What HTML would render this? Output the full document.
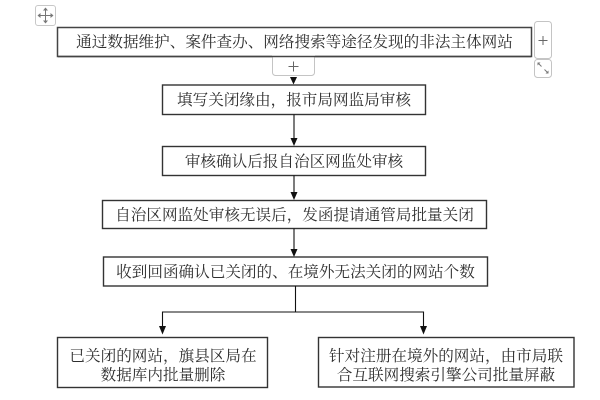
<!DOCTYPE html>
<html><head><meta charset="utf-8"><style>
html,body{margin:0;padding:0;background:#fff;}
svg{display:block;}
text{font-family:"Liberation Serif","Noto Serif CJK SC","Noto Serif CJK JP","Noto Serif CJK",serif;font-size:15.6px;fill:#2e2e2e;}
</style></head><body>
<svg width="600" height="400" viewBox="0 0 600 400" xmlns="http://www.w3.org/2000/svg">
<!-- move icon -->
<rect x="35.5" y="5.5" width="20" height="20" rx="2.5" fill="#fff" stroke="#c8c8c8"/>
<g stroke="#777" stroke-width="1" fill="none">
<line x1="45.5" y1="9" x2="45.5" y2="22"/><line x1="39" y1="15.5" x2="52" y2="15.5"/>
</g>
<g fill="#777">
<polygon points="45.5,7.5 43,10.5 48,10.5"/><polygon points="45.5,23.5 43,20.5 48,20.5"/>
<polygon points="37.5,15.5 40.5,13 40.5,18"/><polygon points="53.5,15.5 50.5,13 50.5,18"/>
</g>
<!-- right + button -->
<rect x="534.5" y="21.5" width="17" height="37" rx="3" fill="#fff" stroke="#c4c4c4"/>
<line x1="538.5" y1="40.5" x2="547.5" y2="40.5" stroke="#666"/>
<line x1="543" y1="36" x2="543" y2="45" stroke="#666"/>
<!-- expand button -->
<rect x="534.5" y="59.5" width="17" height="18" rx="3" fill="#fff" stroke="#c4c4c4"/>
<g stroke="#777" fill="none"><line x1="538" y1="63" x2="541.5" y2="66.5"/><line x1="544.5" y1="69.5" x2="548" y2="73"/></g>
<g fill="#777"><polygon points="537.5,62.5 540.5,62.5 537.5,65.5"/><polygon points="548.5,73.5 545.5,73.5 548.5,70.5"/></g>
<!-- box1 -->
<rect x="57.5" y="27.5" width="474" height="29" fill="#fff" stroke="#444" stroke-width="1.5"/>
<text x="294.5" y="47" text-anchor="middle">通过数据维护、案件查办、网络搜索等途径发现的非法主体网站</text>
<!-- + below -->
<rect x="272.5" y="54.5" width="42" height="21" rx="3" fill="#fff" stroke="#c4c4c4"/>
<rect x="272" y="53" width="43" height="3" fill="#fff"/>
<line x1="58" y1="56.5" x2="531" y2="56.5" stroke="#444" stroke-width="1.5"/>
<line x1="288.5" y1="66.5" x2="298.5" y2="66.5" stroke="#666"/>
<line x1="293.5" y1="61.5" x2="293.5" y2="71.5" stroke="#666"/>
<polygon points="290,77 297,77 293.5,84.5" fill="#111"/>
<!-- box2 -->
<rect x="162.5" y="85" width="263" height="29.5" fill="#fff" stroke="#333" stroke-width="1.4"/>
<text x="294" y="105" text-anchor="middle">填写关闭缘由，报市局网监局审核</text>
<line x1="294" y1="114.5" x2="294" y2="139" stroke="#111" stroke-width="1.1"/>
<polygon points="290.5,138 297.5,138 294,146" fill="#111"/>
<!-- box3 -->
<rect x="162.5" y="146.5" width="263" height="29" fill="#fff" stroke="#333" stroke-width="1.4"/>
<text x="294" y="166.3" text-anchor="middle">审核确认后报自治区网监处审核</text>
<line x1="294" y1="175.5" x2="294" y2="193" stroke="#111" stroke-width="1.1"/>
<polygon points="290.5,192 297.5,192 294,200" fill="#111"/>
<!-- box4 -->
<rect x="102.5" y="200.5" width="384" height="28" fill="#fff" stroke="#333" stroke-width="1.4"/>
<text x="294.5" y="220" text-anchor="middle">自治区网监处审核无误后，发函提请通管局批量关闭</text>
<line x1="294" y1="228.5" x2="294" y2="250" stroke="#111" stroke-width="1.1"/>
<polygon points="290.5,249 297.5,249 294,257" fill="#111"/>
<!-- box5 -->
<rect x="103.5" y="257" width="384" height="29" fill="#fff" stroke="#333" stroke-width="1.4"/>
<text x="295.5" y="276.8" text-anchor="middle">收到回函确认已关闭的、在境外无法关闭的网站个数</text>
<!-- branch -->
<polyline points="295.5,286 295.5,312 162.5,312 162.5,327" fill="none" stroke="#111" stroke-width="1.1"/>
<polyline points="295.5,312 423.5,312 423.5,327" fill="none" stroke="#111" stroke-width="1.1"/>
<polygon points="159,326 166,326 162.5,334.5" fill="#111"/>
<polygon points="420,326 427,326 423.5,334.5" fill="#111"/>
<!-- box6 -->
<rect x="57.5" y="337.5" width="210" height="50" fill="#fff" stroke="#333" stroke-width="1.4"/>
<text x="163" y="361" text-anchor="middle">已关闭的网站，旗县区局在</text>
<text x="163" y="380" text-anchor="middle">数据库内批量删除</text>
<!-- box7 -->
<rect x="318.5" y="337.5" width="255.5" height="49.5" fill="#fff" stroke="#333" stroke-width="1.4"/>
<text x="446" y="361" text-anchor="middle">针对注册在境外的网站，由市局联</text>
<text x="446" y="380" text-anchor="middle">合互联网搜索引擎公司批量屏蔽</text>
</svg>
</body></html>
